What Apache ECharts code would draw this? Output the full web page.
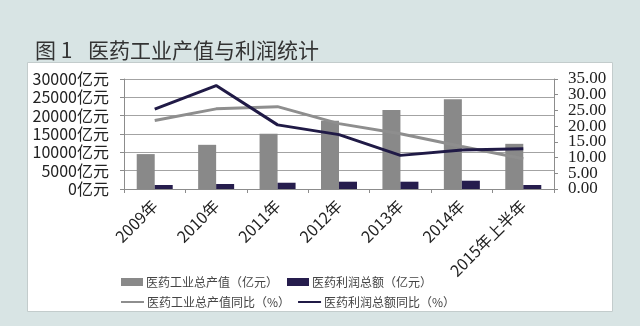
<!DOCTYPE html>
<html>
<head>
<meta charset="utf-8">
<script src="https://cdn.jsdelivr.net/npm/echarts@6/dist/echarts.min.js"></script>
<style>
  html, body { margin: 0; padding: 0; background: #d8e4e4; }
  #chart { width: 640px; height: 326px; }
</style>
</head>
<body>
<div id="chart"></div>
<script>
// Categories (years)
const years = ['2009年', '2010年', '2011年', '2012年', '2013年', '2014年', '2015年上半年'];
// Left axis: output value and total profit (亿元)
const outputValue = [9520, 12050, 15040, 18580, 21570, 24480, 12320];
const profitTotal = [1090, 1360, 1710, 1990, 1990, 2260, 1090];
// Right axis: year-on-year growth (%)
const outputYoY = [21.8, 25.5, 26.2, 20.8, 17.6, 13.5, 9.6];
const profitYoY = [25.4, 32.9, 20.4, 17.3, 10.7, 12.4, 12.8];
// Right axis tick labels, split in two sets so the tightly packed labels all stay visible
const pctLabelsA = [0, 10, 20, 30];
const pctLabelsB = [5, 15, 25, 35];

const seriesNames = ['医药工业总产值（亿元）', '医药利润总额（亿元）', '医药工业总产值同比（%）', '医药利润总额同比（%）'];

const GRAY_BAR = '#898989';
const DARK_BAR = '#261d4d';
const GRAY_LINE = '#8e8e8e';
const DARK_LINE = '#201a46';
const CJK = '"Noto Sans CJK SC", "Noto Sans", sans-serif';
const PCT_LABEL = {
  formatter: v => Number(v).toFixed(2),
  margin: 14, fontFamily: '"Liberation Serif", serif', fontSize: 17, color: '#222',
  showMinLabel: true, showMaxLabel: true, hideOverlap: false
};
const GRID_BOX = { left: 124, right: 86, top: 79, bottom: 137, containLabel: false };

const chart = echarts.init(document.getElementById('chart'), null, { renderer: 'canvas' });

chart.setOption({
  backgroundColor: '#d8e4e4',
  animation: false,
  graphic: [{
    type: 'rect',
    z: -10,
    shape: { x: 27.5, y: 62.5, width: 585, height: 249 },
    style: { fill: '#ffffff', stroke: '#c3cccc', lineWidth: 1 }
  }],
  title: [
    { text: '图 1', left: 30, top: 35, textStyle: { fontFamily: CJK, fontSize: 21, fontWeight: 'normal', color: '#333' } },
    { text: '医药工业产值与利润统计', left: 83, top: 35, textStyle: { fontFamily: CJK, fontSize: 21, fontWeight: 'normal', color: '#333' } }
  ],
  grid: [Object.assign({}, GRID_BOX), Object.assign({ show: false }, GRID_BOX)],
  legend: [
    {
      left: 116, top: 271, itemWidth: 22, itemHeight: 8, itemGap: 9, icon: 'rect',
      data: [seriesNames[0], seriesNames[1]],
      textStyle: { fontFamily: CJK, fontSize: 12, color: '#444', padding: [0, 0, 0, -2] }
    },
    {
      left: 116, top: 291, itemWidth: 23, itemHeight: 2, itemGap: 8, icon: 'rect',
      data: [seriesNames[2], seriesNames[3]],
      textStyle: { fontFamily: CJK, fontSize: 12, color: '#444', padding: [0, 0, 0, -2] }
    }
  ],
  xAxis: [
    {
      type: 'category',
      gridIndex: 0,
      data: years,
      axisLine: { lineStyle: { color: '#8c8c8c', width: 1 } },
      axisTick: { show: true, length: 4, lineStyle: { color: '#8c8c8c' } },
      axisLabel: { rotate: 45, margin: 14, fontFamily: CJK, fontSize: 16, color: '#222', interval: 0 }
    },
    { type: 'category', gridIndex: 1, data: years, show: false }
  ],
  yAxis: [
    {
      type: 'value', gridIndex: 0, min: 0, max: 30000, interval: 5000,
      axisLine: { show: true, lineStyle: { color: '#8c8c8c' } },
      axisTick: { show: true, length: 4, lineStyle: { color: '#8c8c8c' } },
      axisLabel: { formatter: v => String(v) + '亿元', margin: 15, fontFamily: CJK, fontSize: 16, lineHeight: 15, color: '#222',
        showMinLabel: true, showMaxLabel: true, hideOverlap: false },
      splitLine: { show: true, lineStyle: { color: '#a3a3a3', width: 1.2 } }
    },
    {
      type: 'value', gridIndex: 0, min: 0, max: 35, interval: 5, position: 'right',
      axisLine: { show: true, lineStyle: { color: '#8c8c8c' } },
      axisTick: { show: true, length: 4, lineStyle: { color: '#8c8c8c' } },
      axisLabel: Object.assign({ customValues: pctLabelsA }, PCT_LABEL),
      splitLine: { show: false }
    },
    {
      type: 'value', gridIndex: 1, min: 0, max: 35, interval: 5, position: 'right',
      axisLine: { show: false },
      axisTick: { show: false },
      axisLabel: Object.assign({ customValues: pctLabelsB }, PCT_LABEL),
      splitLine: { show: false }
    }
  ],
  series: [
    { name: seriesNames[0], type: 'bar', data: outputValue, barWidth: 18, barGap: '0%', itemStyle: { color: GRAY_BAR } },
    { name: seriesNames[1], type: 'bar', data: profitTotal, barWidth: 18, barGap: '0%', itemStyle: { color: DARK_BAR } },
    { name: seriesNames[2], type: 'line', yAxisIndex: 1, data: outputYoY, symbol: 'none', z: 3,
      lineStyle: { color: GRAY_LINE, width: 3 }, itemStyle: { color: GRAY_LINE } },
    { name: seriesNames[3], type: 'line', yAxisIndex: 1, data: profitYoY, symbol: 'none', z: 4,
      lineStyle: { color: DARK_LINE, width: 3 }, itemStyle: { color: DARK_LINE } }
  ]
});
</script>
</body>
</html>
